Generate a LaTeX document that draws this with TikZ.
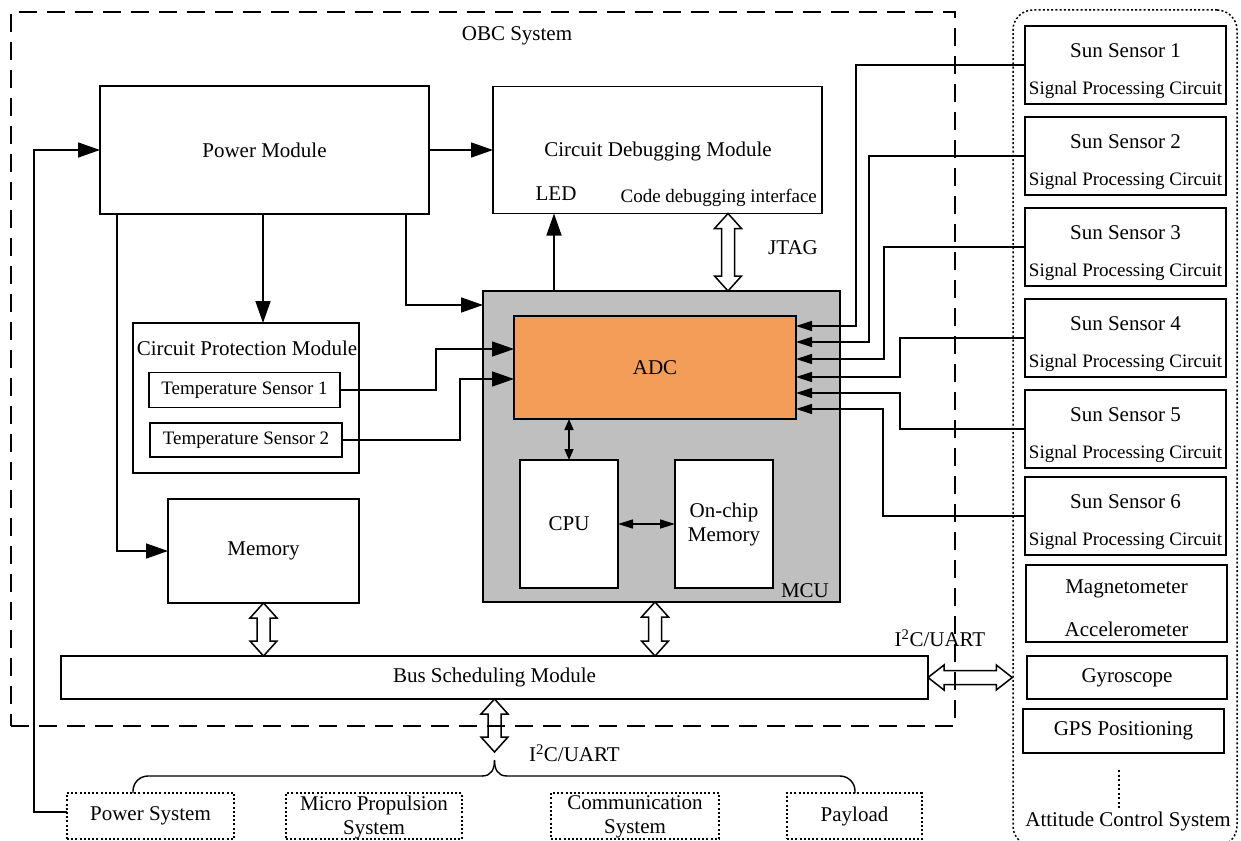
\documentclass[tikz,border=0pt]{standalone}
\usepackage{fontspec}
\setmainfont{Liberation Serif}
\usetikzlibrary{arrows.meta,calc}
\definecolor{adcorange}{RGB}{244,157,88}
\definecolor{mcugrey}{RGB}{191,191,191}
\newcommand\ftmain{\fontsize{21}{25}\selectfont}
\newcommand\ftsmall{\fontsize{19}{22}\selectfont}
\newcommand\hollowv[2]{\path[draw, fill=white, line width=1.5pt, line join=miter] let \p1=(#1), \p2=(#2) in (\x1,\y1) -- (\x1+13.5pt,\y1-15pt) -- (\x1+6.5pt,\y1-15pt) -- (\x1+6.5pt,\y2+15pt) -- (\x1+13.5pt,\y2+15pt) -- (\x1,\y2) -- (\x1-13.5pt,\y2+15pt) -- (\x1-6.5pt,\y2+15pt) -- (\x1-6.5pt,\y1-15pt) -- (\x1-13.5pt,\y1-15pt) -- cycle;}
\newcommand\hollowh[2]{\path[draw, fill=white, line width=1.5pt, line join=miter] let \p1=(#1), \p2=(#2) in (\x1,\y1) -- (\x1+16pt,\y1+12.5pt) -- (\x1+16pt,\y1+7pt) -- (\x2-16pt,\y1+7pt) -- (\x2-16pt,\y1+12.5pt) -- (\x2,\y1) -- (\x2-16pt,\y1-12.5pt) -- (\x2-16pt,\y1-7pt) -- (\x1+16pt,\y1-7pt) -- (\x1+16pt,\y1-12.5pt) -- cycle;}
\begin{document}
\begin{tikzpicture}[x=1pt,y=-1pt,font=\ftmain,line width=1.6pt,
  box/.style={draw,line width=1.6pt,inner sep=0pt,outer sep=0pt},
  dotbox/.style={draw,line width=1.5pt,dash pattern=on 2pt off 2.2pt,inner sep=0pt,outer sep=0pt},
  bigarr/.style={-{Triangle[length=22pt,width=15pt]}},
  sarr/.style={line width=1.3pt,-{Triangle[length=16pt,width=10pt]}},
  dblsmall/.style={{Triangle[length=11pt,width=9pt]}-{Triangle[length=11pt,width=9pt]}},
  dblmid/.style={{Triangle[length=15pt,width=9pt]}-{Triangle[length=15pt,width=9pt]}},
  brace/.style={line width=1.4pt}]
\useasboundingbox (0,0) rectangle (1241,840);
\clip (0,0) rectangle (1241,840);

% OBC label
\node (obclbl) at (517,36) {OBC System};

% Power module and debugging module
\node[box,minimum width=329pt,minimum height=128pt] (pm) at (264.5,150) {Power Module};
\node[box,minimum width=329pt,minimum height=127pt] (cdm) at (657.5,150) {};
\node (cdmlbl) at (658,151) {Circuit Debugging Module};
\node (led) at (556,194) {LED};
\node[font=\ftsmall,anchor=east] (cdi) at (821,198) {Code debugging interface};
\node (jtag) at (793,248) {JTAG};

% Circuit protection
\node[box,minimum width=226pt,minimum height=150pt] (cpm) at (246,398) {};
\node (cpmlbl) at (247,348) {Circuit Protection Module};
\node[box,font=\ftsmall,minimum width=191pt,minimum height=35pt] (ts1) at (244.5,390) {Temperature Sensor 1};
\node[box,font=\ftsmall,minimum width=192pt,minimum height=34pt] (ts2) at (246,440) {Temperature Sensor 2};

% Memory
\node[box,minimum width=191pt,minimum height=104pt] (mem) at (263.5,551) {Memory};

% MCU
\node[box,fill=mcugrey,minimum width=357pt,minimum height=311pt] (mcu) at (661.5,446.5) {};
\node[box,fill=adcorange,minimum width=282pt,minimum height=103pt] (adc) at (655,367.5) {ADC};
\node[box,fill=white,minimum width=98pt,minimum height=128pt] (cpu) at (569,524) {CPU};
\node[box,fill=white,minimum width=98pt,minimum height=128pt,align=center] (ocm) at (724,524) {On-chip\\[-1pt]Memory};
\node[anchor=base east] (mculbl) at ($(mcu.south east)+(-7,-5)$) {MCU};

% Bus
\node[box,minimum width=867pt,minimum height=43pt] (bus) at (494.5,677.5) {Bus Scheduling Module};

% Attitude control system
\node[draw,line width=1.5pt,dash pattern=on 2pt off 2.2pt,rounded corners=20pt,minimum width=224pt,minimum height=836pt,inner sep=0pt] (acs) at (1125,428) {};
\foreach \i/\t in {1/26,2/117,3/208,4/299,5/390,6/477}{
  \node[box,minimum width=201pt,minimum height=78pt,anchor=north] (ss\i) at (1125.5,\t) {};
  \node (sst\i) at ($(ss\i.north)+(0,25)$) {Sun Sensor \i};
  \node[font=\ftsmall] (spc\i) at ($(ss\i.north)+(0,64)$) {Signal Processing Circuit};
}
\node[box,minimum width=201pt,minimum height=77pt] (mag) at (1126.5,603.5) {};
\node (magt) at (1126.5,589) {Magnetometer};
\node (acct) at (1126.5,629) {Accelerometer};
\node[box,minimum width=200pt,minimum height=43pt] (gyro) at (1127,677.5) {Gyroscope};
\node[box,minimum width=201pt,minimum height=44pt] (gps) at (1123.5,731) {GPS Positioning};
\coordinate (dtop) at (1119,770);
\coordinate (dbot) at (1119,808);
\draw[line width=1.8pt,dash pattern=on 2pt off 2.5pt] (dtop) -- (dbot);
\node (acslbl) at (1128,821) {Attitude Control System};

% Bottom subsystems
\node[dotbox,minimum width=167pt,minimum height=46pt] (ps) at (150.5,816) {Power System};
\node[dotbox,minimum width=176pt,minimum height=46pt,align=center] (mps) at (374,816) {};
\node (mpst) at (374,817) [align=center] {Micro Propulsion\\[-1pt]System};
\node[dotbox,minimum width=168pt,minimum height=46pt] (cs) at (635,816) {};
\node (cst) at (635,817) [align=center] {Communication\\[-1pt]System};
\node[dotbox,minimum width=135pt,minimum height=46pt] (pay) at (854.5,816) {Payload};

% Power connections
\draw[bigarr] (pm.east) -- (cdm.west);
\draw[bigarr] ($(ps.west)+(0,-4)$) -- ++(-33,0) |- (pm.west);
\draw[bigarr] ($(pm.south west)+(17,0)$) |- (mem.west);
\coordinate (pmA) at ($(pm.south)+(-1.5,0)$);
\draw[bigarr] (pmA) -- (pmA |- cpm.north);
\coordinate (pmB) at ($(pm.south east)+(-23,0)$);
\draw[bigarr] (pmB) |- ($(mcu.north west)+(0,14)$);

% LED and JTAG
\coordinate (ledA) at ($(mcu.north west)+(71,0)$);
\draw[bigarr] (ledA) -- (ledA |- cdm.south);
\coordinate (j1) at ($(cdm.south)+(70.5,0)$);
\coordinate (j2) at (j1 |- mcu.north);
\hollowv{j1}{j2}

% Temperature sensors to ADC
\draw[bigarr] (ts1.east) -- ++(96,0) |- ($(adc.west)+(0,-18.5)$);
\draw[bigarr] (ts2.east) -- ++(118,0) |- ($(adc.west)+(0,11.5)$);

% Inside MCU
\draw[dblsmall] (cpu.north |- adc.south) -- (cpu.north);
\draw[dblmid] (cpu.east) -- (ocm.west);

% Sun sensors to ADC
\foreach \i/\dx/\dy in {1/169/-41.5,2/156/-25.5,3/141/-8.5,4/125/9.5,5/125/25.5,6/142/41.5}{
  \draw[sarr] (ss\i.west) -- ++(-\dx,0) |- ($(adc.east)+(0,\dy)$);
}

% Bus connections
\coordinate (m1) at (mem.south);
\coordinate (m2) at (mem.south |- bus.north);
\hollowv{m1}{m2}
\coordinate (c1) at ($(mcu.south)+(-6.5,0)$);
\coordinate (c2) at (c1 |- bus.north);
\hollowv{c1}{c2}
\coordinate (b1) at (bus.south);
\coordinate (b2) at ($(bus.south)+(0,53)$);
\hollowv{b1}{b2}
\coordinate (r1) at (bus.east);
\coordinate (r2) at (r1 -| acs.west);
\hollowh{r1}{r2}
\node (i2cb) [anchor=west] at (525,753) {I\textsuperscript{2}C/UART};
\node (i2cr) at (940,638) {I\textsuperscript{2}C/UART};

% Brace to subsystems
\coordinate (brt) at ($(bus.south)+(0,61)$);
\coordinate (bl) at ($(brt)+(0,16)$);
\coordinate (pl) at ($(ps.north west)+(66,0)$);
\coordinate (pr) at ($(pay.north west)+(68,0)$);
\draw[brace,rounded corners=15pt] (pl) |- ($(bl)+(-12,0)$);
\draw[brace] ($(bl)+(-12.5,0)$) .. controls ($(bl)+(-3,0)$) and ($(brt)+(0,9)$) .. (brt);
\draw[brace] (brt) .. controls ($(brt)+(0,9)$) and ($(bl)+(3,0)$) .. ($(bl)+(12.5,0)$);
\draw[brace,rounded corners=15pt] ($(bl)+(12,0)$) -| (pr);

% OBC dashed frame (drawn last)
\node[draw,line width=1.6pt,dash pattern=on 18pt off 10pt,minimum width=944pt,minimum height=714pt,inner sep=0pt] (obc) at (483,369) {};
\end{tikzpicture}
\end{document}
